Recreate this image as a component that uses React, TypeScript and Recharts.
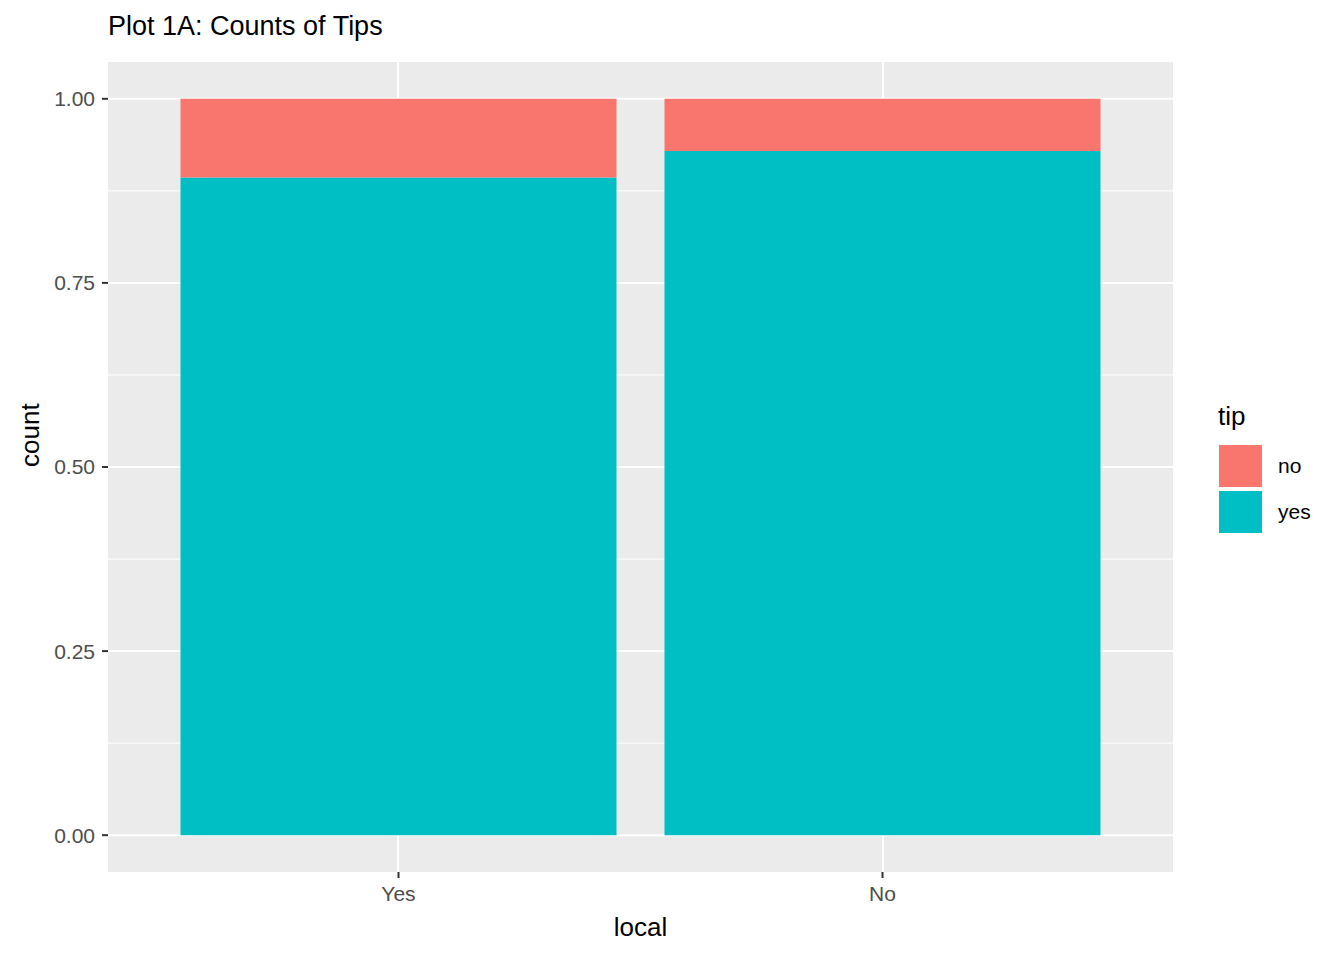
import { BarChart, Bar, XAxis, YAxis, CartesianGrid } from "recharts"

const locals = ["Yes", "No"]
const yesShare = [0.893, 0.929]
const noShare = [0.107, 0.071]
const yTicks = [0, 0.25, 0.5, 0.75, 1]
const minorTicks = [0.125, 0.375, 0.625, 0.875]

const data = locals.map((l, i) => ({ local: l, yes: yesShare[i], no: noShare[i] }))

const font = "'Liberation Sans', Arial, sans-serif"

export default function App() {
  return (
    <div style={{ position: "relative", width: 1344, height: 960, margin: -8, fontFamily: font, background: "#fff" }}>
      <div style={{ position: "absolute", left: 108, top: 11, fontSize: 27, color: "#000" }}>Plot 1A: Counts of Tips</div>
      <BarChart
        width={1344}
        height={960}
        data={data}
        margin={{ top: 62, right: 171, left: 48, bottom: 48 }}
        barCategoryGap={24}
      >
        <CartesianGrid fill="#EBEBEB" stroke="#fff" strokeWidth={1} vertical={false} horizontalValues={minorTicks} />
        <CartesianGrid fill="none" stroke="#fff" strokeWidth={2} horizontalValues={yTicks} verticalPoints={[398, 883]} />
        <XAxis
          dataKey="local"
          padding={{ left: 48.5, right: 48.5 }}
          axisLine={false}
          tickSize={6}
          tickLine={{ stroke: "#333", strokeWidth: 2 }}
          tick={{ fill: "#4D4D4D", fontSize: 21, fontFamily: font, dy: 6 }}
          height={40}
          label={{ value: "local", position: "insideBottom", offset: -24, fill: "#000", fontSize: 26, fontFamily: font }}
        />
        <YAxis
          type="number"
          domain={[-0.05, 1.05]}
          ticks={yTicks}
          tickFormatter={(v) => v.toFixed(2)}
          axisLine={false}
          tickSize={6}
          tickLine={{ stroke: "#333", strokeWidth: 2 }}
          tick={{ fill: "#4D4D4D", fontSize: 21, fontFamily: font, dx: -5 }}
          width={60}
          label={{ value: "count", angle: -90, position: "insideLeft", offset: -18, fill: "#000", fontSize: 26, fontFamily: font }}
        />
        <Bar dataKey="yes" stackId="a" fill="#00BFC4" isAnimationActive={false} />
        <Bar dataKey="no" stackId="a" fill="#F8766D" isAnimationActive={false} />
      </BarChart>
      <div style={{ position: "absolute", left: 1218, top: 401, fontSize: 26 }}>tip</div>
      {[
        ["no", "#F8766D", 444],
        ["yes", "#00BFC4", 490],
      ].map(([lab, col, top]) => (
        <div key={lab as string} style={{ position: "absolute", left: 1218, top: top as number, display: "flex", alignItems: "center" }}>
          <div style={{ width: 45, height: 44, background: col as string, border: "1px solid #fff", boxSizing: "border-box" }} />
          <span style={{ marginLeft: 15, fontSize: 21 }}>{lab}</span>
        </div>
      ))}
    </div>
  )
}
